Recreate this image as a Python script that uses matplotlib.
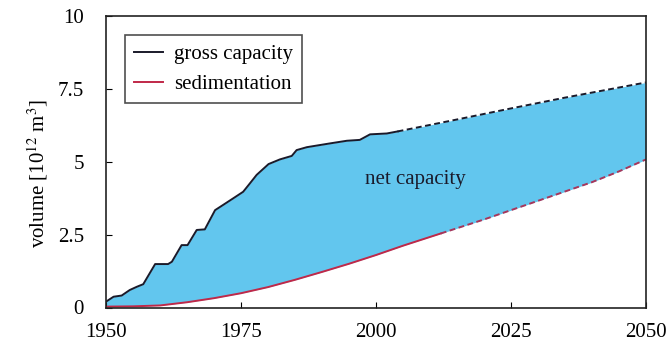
import numpy as np
import matplotlib
matplotlib.use("Agg")
import matplotlib.pyplot as plt

plt.rcParams['font.family'] = ['Liberation Serif', 'DejaVu Serif']
plt.rcParams['mathtext.fontset'] = 'stix'

# gross capacity, observed
gross_years = [1950, 1951.4, 1952.9, 1954.4, 1955.7, 1956.9, 1959.1, 1961.5, 1962.2,
               1964.0, 1965.1, 1966.8, 1968.3, 1970.2, 1971.7, 1973.6, 1975.4, 1976.4,
               1977.9, 1980.1, 1982.2, 1984.4, 1985.3, 1987.2, 1991.5, 1994.6, 1997.0,
               1998.9, 2002.0, 2004.0]
gross_vals = [0.2, 0.37, 0.41, 0.6, 0.71, 0.8, 1.49, 1.49, 1.57,
              2.14, 2.14, 2.66, 2.68, 3.34, 3.52, 3.75, 3.97, 4.2,
              4.55, 4.92, 5.08, 5.2, 5.4, 5.5, 5.63, 5.72, 5.75,
              5.94, 5.97, 6.04]
# gross capacity, projected
gross_proj_years = [2004.0, 2015, 2025, 2035, 2050]
gross_proj_vals = [6.04, 6.45, 6.83, 7.2, 7.72]

# sedimentation, observed
sed_years = [1950, 1955, 1960, 1965, 1970, 1975, 1980, 1985, 1990, 1995, 2000, 2005, 2012]
sed_vals = [0.03, 0.04, 0.07, 0.18, 0.32, 0.49, 0.7, 0.95, 1.22, 1.5, 1.8, 2.12, 2.54]
# sedimentation, projected
sed_proj_years = [2012, 2020, 2025, 2030, 2035, 2040, 2045, 2050]
sed_proj_vals = [2.54, 3.02, 3.34, 3.66, 3.98, 4.3, 4.67, 5.08]

fig = plt.figure(figsize=(6.7, 3.61), dpi=100)
ax = fig.add_axes([106 / 670, 1 - 307.5 / 361, 540 / 670, 291.5 / 361])

# fill between top and bottom curves
gy = np.array(gross_years + gross_proj_years[1:])
gv = np.array(gross_vals + gross_proj_vals[1:])
sy = np.array(sed_years + sed_proj_years[1:])
sv = np.array(sed_vals + sed_proj_vals[1:])
xx = np.union1d(gy, sy)
ax.fill_between(xx, np.interp(xx, sy, sv), np.interp(xx, gy, gv),
                color='#62c6ee', lw=0)

ax.plot(gross_years, gross_vals, color='#1a1a2a', lw=1.4, label='gross capacity')
ax.plot(gross_proj_years, gross_proj_vals, color='#1a1a2a', lw=1.4, ls=(0, (3, 1.8)))
ax.plot(sed_years, sed_vals, color='#c02848', lw=1.4, label='sedimentation')
ax.plot(sed_proj_years, sed_proj_vals, color='#a8365a', lw=1.4, ls=(0, (3, 1.8)))

ax.text(2007.2, 4.4, 'net capacity', fontsize=15, ha='center', va='center', color='#1a1a2a')

ax.set_xlim(1950, 2050)
ax.set_ylim(0, 10)
ax.set_xticks([1950, 1975, 2000, 2025, 2050])
ax.set_yticks([0, 2.5, 5, 7.5, 10])
ax.set_yticklabels(['0', '2.5', '5', '7.5', '10'])
ax.tick_params(direction='in', length=4, labelsize=15)
ax.tick_params(axis='y', pad=16)
ax.tick_params(axis='x', pad=11)
ax.set_ylabel('volume [10$^{12}$ m$^3$]', fontsize=15)
ax.yaxis.set_label_coords(-0.104, 0.46)
for s in ax.spines.values():
    s.set_linewidth(1.2)
    s.set_color('#222222')

leg = ax.legend(loc='upper left', bbox_to_anchor=(0.035, 0.935), fontsize=15,
                frameon=True, fancybox=False, edgecolor='#222222', borderaxespad=0,
                handlelength=1.4, borderpad=0.45, labelspacing=0.5, handletextpad=0.5)
leg.get_frame().set_linewidth(1.2)

fig.savefig('out.png', dpi=100)
